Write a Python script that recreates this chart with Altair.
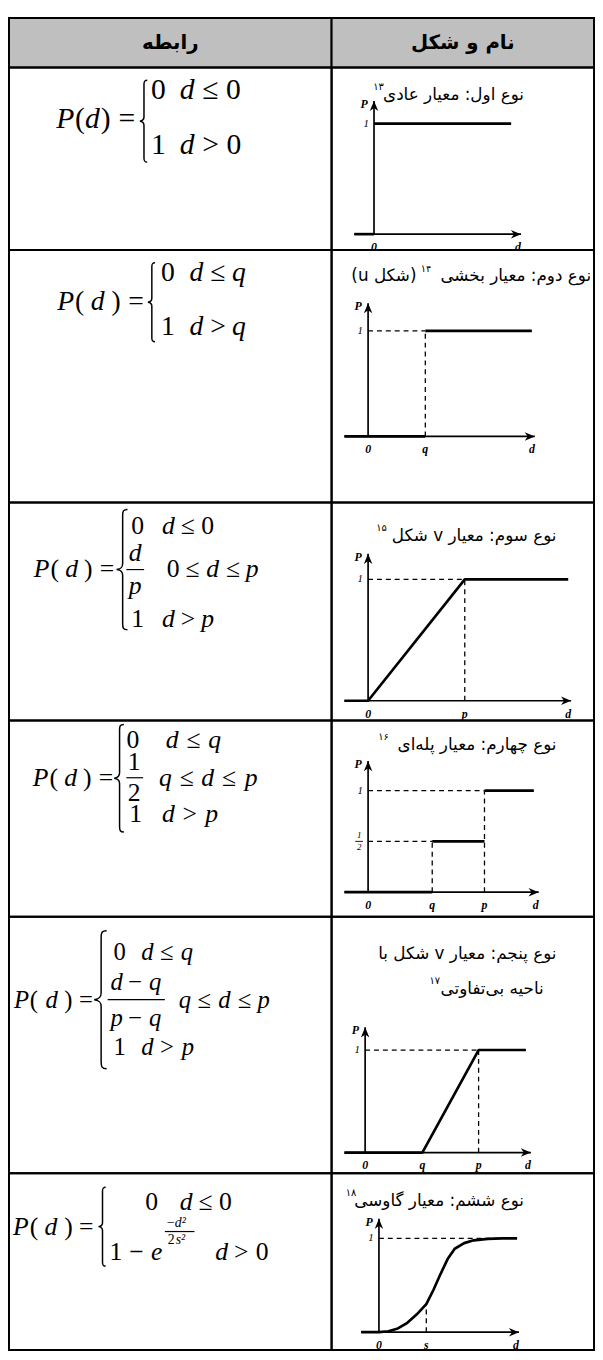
import altair as alt
import pandas as pd

# ---------------- data ----------------
HEADER = ["رابطه", "نام و شکل"]
TITLE_MAIN = ["نوع اول: معیار عادی", "نوع دوم: معیار بخشی", "نوع سوم: معیار v شکل",
              "نوع چهارم: معیار پله\u200cای", "نوع پنجم: معیار v شکل با", "نوع ششم: معیار گاوسی"]
TITLE_EXTRA = ["", "(شکل u)", "", "", "ناحیه بی\u200cتفاوتی", ""]
NOTES = ["۱۳", "۱۴", "۱۵", "۱۶", "۱۷", "۱۸"]

# criterion curves P(d); d measured in units of the marked parameter (q, p or s)
SOLID_D = [
    [[-0.134, 0.0], [0.0, 0.933]],
    [[-0.414, 1.0], [1.0, 2.862]],
    [[-0.245, 0.0, 1.0, 2.07]],
    [[-0.369, 1.0], [1.0, 1.815], [1.815, 2.585]],
    [[-0.362, 1.0, 1.983, 2.81]],
    [[-0.375, 0.0, 0.2, 0.4, 0.6, 0.8, 1.0, 1.15, 1.3, 1.45, 1.6, 1.8, 2.0, 2.3, 2.6, 2.917]],
]
SOLID_P = [
    [[0, 0], [1, 1]],
    [[0, 0], [1, 1]],
    [[0, 0, 1, 1]],
    [[0, 0], [0.5, 0.5], [1, 1]],
    [[0, 0, 1, 1]],
    [[0, 0, 0.01, 0.04, 0.10, 0.19, 0.30, 0.45, 0.62, 0.78, 0.89, 0.95, 0.98, 0.995, 1.0, 1.0]],
]
DASH_D = [
    [],
    [[0, 1], [1, 1]],
    [[0, 1], [1, 1]],
    [[0, 1.815], [0, 1], [1, 1], [1.815, 1.815]],
    [[0, 1.983], [1.983, 1.983]],
    [[0, 2.917], [1, 1]],
]
DASH_P = [
    [],
    [[1, 1], [0, 1]],
    [[1, 1], [0, 1]],
    [[1, 1], [0.5, 0.5], [0, 0.5], [0, 1]],
    [[1, 1], [0, 1]],
    [[1, 1], [0, 0.30]],
]
AXIS_DMIN = [-0.134, -0.414, -0.245, -0.369, -0.362, -0.375]
AXIS_DMAX = [1.0, 2.914, 2.10, 2.66, 2.897, 2.958]
AXIS_PMAX = [1.205, 1.262, 1.211, 1.29, 1.221, 1.21]
TICK_D = [[0], [0, 1], [0, 1], [0, 1, 1.815], [0, 1, 1.983], [0, 1]]
TICK_T = [["0"], ["0", "q"], ["0", "p"], ["0", "q", "p"], ["0", "q", "p"], ["0", "s"]]

# ---------------- layout ----------------
ROW_H = [50, 185, 256, 221, 199, 260, 179]
WL, WR = 327, 266
SERIF = "Liberation Serif"
FA = "DejaVu Sans"
RLE, PDF = "\u202b", "\u202c"
TITLE_FS = 17

# plot frame in cell pixels: origin x, px per d-unit, y of P=0, y of P=1
PLOT_FRAME = [(43, 149, 169, 57), (37, 58, 189, 82), (37, 98, 201, 78),
              (37, 65, 174, 71), (34, 58, 239, 135), (48, 48, 161, 66)]

# titles: right edge x, y, note x (right edge), note y, extra x, extra y
TITLE_POS = [(195, 28, 53, 20, None, None),
             (263, 27, 101, 19, 86, 27),
             (228, 34, 56, 26, None, None),
             (228, 25, 58, 17, None, None),
             (228, 38, 110, 65, 215, 73),
             (195, 28, 25, 20, None, None)]

# formula pieces: (x, y, text)
FORM = [
    dict(fs=30,
         i=[(48, 52, "P"), (77, 52, "d"), (173, 23, "d"), (173, 79, "d")],
         n=[(67, 52, "("), (93, 52, ")"), (111, 52, "="), (144, 23, "0"), (196, 23, "≤ 0"),
            (144, 79, "1"), (196, 79, "> 0")],
         ci=[], cn=[], si=[], sn=[], bars=[], brace=(136, 13, 96)),
    dict(fs=28,
         i=[(49, 53, "P"), (83, 53, "d"), (183, 24, "d"), (226, 24, "q"), (183, 78, "d"), (226, 78, "q")],
         n=[(67, 53, "("), (104, 53, ")"), (121, 53, "="), (154, 24, "0"), (204, 24, "≤"),
            (154, 78, "1"), (204, 78, ">")],
         ci=[], cn=[], si=[], sn=[], bars=[], brace=(144, 13, 93)),
    dict(fs=26,
         i=[(25, 68, "P"), (57, 68, "d"), (155, 24, "d"), (200, 68, "d"), (240, 68, "p"),
            (155, 118, "d"), (195, 118, "p")],
         n=[(42, 68, "("), (76, 68, ")"), (92, 68, "="), (124, 24, "0"), (174, 24, "≤"), (195, 24, "0"),
            (160, 68, "0"), (179, 68, "≤"), (220, 68, "≤"), (124, 118, "1"), (174, 118, ">")],
         ci=[(128, 51, "d"), (128, 85, "p")], cn=[], si=[], sn=[],
         bars=[(119, 137, 68)], brace=(114, 7, 129)),
    dict(fs=26,
         i=[(24, 58, "P"), (56, 58, "d"), (159, 20, "d"), (202, 20, "q"), (152, 58, "q"), (195, 58, "d"),
            (239, 58, "p"), (155, 95, "d"), (199, 95, "p")],
         n=[(41, 58, "("), (75, 58, ")"), (91, 58, "="), (119, 20, "0"), (180, 20, "≤"), (173, 58, "≤"),
            (216, 58, "≤"), (122, 95, "1"), (176, 95, ">")],
         ci=[], cn=[(127, 42, "1"), (127, 74, "2")], si=[], sn=[],
         bars=[(119, 136, 58)], brace=(111, 4, 113)),
    dict(fs=25,
         i=[(5, 84, "P"), (37, 84, "d"), (134, 36, "d"), (174, 36, "q"), (103, 66, "d"), (142, 66, "q"),
            (103, 103, "p"), (142, 103, "q"), (172, 84, "q"), (212, 84, "d"), (252, 84, "p"),
            (134, 132, "d"), (175, 132, "p")],
         n=[(21, 84, "("), (56, 84, ")"), (71, 84, "="), (106, 36, "0"), (153, 36, "≤"), (121, 66, "−"),
            (121, 103, "−"), (191, 84, "≤"), (232, 84, "≤"), (106, 132, "1"), (153, 132, ">")],
         ci=[], cn=[], si=[], sn=[], bars=[(100, 158, 84)], brace=(92, 14, 154)),
    dict(fs=26,
         i=[(4, 55, "P"), (36, 55, "d"), (173, 29, "d"), (144, 80, "e"), (209, 80, "d")],
         n=[(21, 55, "("), (56, 55, ")"), (71, 55, "="), (138, 29, "0"), (192, 29, "≤"), (213, 29, "0"),
            (102, 80, "1"), (122, 80, "−"), (228, 80, ">"), (250, 80, "0")],
         ci=[], cn=[], si=[(168, 50, "d²"), (169, 68, "s²")], sn=[(160, 50, "−"), (161, 68, "2")],
         bars=[(158, 188, 59)], brace=(94, 14, 94)),
]

BRACE = ("M0.1,-1 C0.03,-1 0.02,-0.97 0.02,-0.9 L0.02,-0.1 C0.02,-0.04 0,-0.01 -0.08,0 "
         "C0,0.01 0.02,0.04 0.02,0.1 L0.02,0.9 C0.02,0.97 0.03,1 0.1,1")
ARROW_R = "M0,0 L-1,-0.42 L-0.7,0 L-1,0.42 Z"
ARROW_U = "M0,0 L-0.42,1 L0,0.7 L0.42,1 Z"


def PX(f):
    return alt.X(f + ":Q", scale=None, axis=None)


def PY(f):
    return alt.Y(f + ":Q", scale=None, axis=None)


def texts(rows, size, style="normal", weight="normal", align="left", font=SERIF):
    df = pd.DataFrame(rows, columns=["x", "y", "t"])
    return alt.Chart(df).mark_text(font=font, fontSize=size, fontStyle=style, fontWeight=weight,
                                   align=align, baseline="middle", color="black").encode(
        x=PX("x"), y=PY("y"), text="t:N")


def seg_df(Ds, Ps):
    rows = []
    for k, (ds, ps) in enumerate(zip(Ds, Ps)):
        for j, (d, p) in enumerate(zip(ds, ps)):
            rows.append({"d": d, "P": p, "seg": k, "o": j})
    return pd.DataFrame(rows)


def formula_layers(f):
    L = []
    fs = f["fs"]
    if f["i"]:
        L.append(texts(f["i"], fs, style="italic"))
    if f["n"]:
        L.append(texts(f["n"], fs))
    if f["ci"]:
        L.append(texts(f["ci"], fs, style="italic", align="center"))
    if f["cn"]:
        L.append(texts(f["cn"], fs, align="center"))
    if f["si"]:
        L.append(texts(f["si"], 14, style="italic"))
    if f["sn"]:
        L.append(texts(f["sn"], 14))
    if f["bars"]:
        bdf = pd.DataFrame(f["bars"], columns=["x1", "x2", "y"])
        L.append(alt.Chart(bdf).mark_rule(color="black", strokeWidth=1.2).encode(
            x=PX("x1"), x2="x2:Q", y=PY("y")))
    bx, bt, bb = f["brace"]
    brdf = pd.DataFrame({"x": [bx], "y": [(bt + bb) / 2], "s": [(bb - bt) ** 2]})
    L.append(alt.Chart(brdf).mark_point(shape=BRACE, filled=False, color="black", strokeWidth=1.5,
                                        opacity=1).encode(
        x=PX("x"), y=PY("y"), size=alt.Size("s:Q", scale=None, legend=None)))
    return L


def plot_layers(i, h):
    ox, unit, ay, oy = PLOT_FRAME[i]
    # domains chosen so that the default ranges [0, W] / [H, 0] place the plot in its cell
    xs = alt.Scale(domain=[-ox / unit, (WR - ox) / unit], nice=False, zero=False)
    ys = alt.Scale(domain=[(ay - h) / (ay - oy), ay / (ay - oy)], nice=False, zero=False)
    ex = alt.X("d:Q", scale=xs, axis=None)
    ey = alt.Y("P:Q", scale=ys, axis=None)
    L = []
    axdf = seg_df([[AXIS_DMIN[i], AXIS_DMAX[i]], [0, 0]], [[0, 0], [0, AXIS_PMAX[i]]])
    L.append(alt.Chart(axdf).mark_line(color="black", strokeWidth=1.7).encode(
        x=ex, y=ey, detail="seg:N", order="o:Q"))
    if DASH_D[i]:
        L.append(alt.Chart(seg_df(DASH_D[i], DASH_P[i])).mark_line(
            color="black", strokeWidth=1.3, strokeDash=[5, 4]).encode(x=ex, y=ey, detail="seg:N", order="o:Q"))
    L.append(alt.Chart(seg_df(SOLID_D[i], SOLID_P[i])).mark_line(
        color="black", strokeWidth=2.7, strokeCap="butt", strokeJoin="round").encode(
        x=ex, y=ey, detail="seg:N", order="o:Q"))
    L.append(alt.Chart(pd.DataFrame({"d": [AXIS_DMAX[i]], "P": [0]})).mark_point(
        shape=ARROW_R, filled=True, size=420, color="black", opacity=1).encode(x=ex, y=ey))
    L.append(alt.Chart(pd.DataFrame({"d": [0], "P": [AXIS_PMAX[i]]})).mark_point(
        shape=ARROW_U, filled=True, size=420, color="black", opacity=1).encode(x=ex, y=ey))
    lab = dict(font=SERIF, fontSize=12, fontStyle="italic", fontWeight="bold", color="black",
               baseline="middle", align="center")
    L.append(alt.Chart(pd.DataFrame({"d": TICK_D[i], "P": [0] * len(TICK_D[i]), "t": TICK_T[i]})).mark_text(
        dy=13, **lab).encode(x=ex, y=ey, text="t:N"))
    L.append(alt.Chart(pd.DataFrame({"d": [AXIS_DMAX[i]], "P": [0], "t": ["d"]})).mark_text(
        dy=13, dx=-3, **lab).encode(x=ex, y=ey, text="t:N"))
    L.append(alt.Chart(pd.DataFrame({"d": [0], "P": [AXIS_PMAX[i]], "t": ["P"]})).mark_text(
        dy=3, dx=-10, **lab).encode(x=ex, y=ey, text="t:N"))
    lab1 = dict(lab, fontWeight="normal", fontSize=11)
    L.append(alt.Chart(pd.DataFrame({"d": [0], "P": [1], "t": ["1"]})).mark_text(
        dx=-8, **lab1).encode(x=ex, y=ey, text="t:N"))
    if i == 3:
        small = dict(lab1, fontSize=9)
        L.append(alt.Chart(pd.DataFrame({"d": [0], "P": [0.5], "t": ["1"]})).mark_text(
            dx=-9, dy=-6, **small).encode(x=ex, y=ey, text="t:N"))
        L.append(alt.Chart(pd.DataFrame({"d": [0], "P": [0.5], "t": ["2"]})).mark_text(
            dx=-9, dy=6, **small).encode(x=ex, y=ey, text="t:N"))
        L.append(alt.Chart(pd.DataFrame({"d": [-0.2], "d2": [-0.08], "P": [0.5]})).mark_rule(
            color="black", strokeWidth=0.9).encode(x=ex, x2="d2:Q", y=ey))
    return L


def title_layers(i):
    tx, ty, nx, ny, ex_, ey_ = TITLE_POS[i]
    L = [texts([(tx, ty, RLE + TITLE_MAIN[i] + PDF)], TITLE_FS, align="right", font=FA),
         texts([(nx, ny, NOTES[i])], 10, align="right", font=FA)]
    if TITLE_EXTRA[i]:
        L.append(texts([(ex_, ey_, RLE + TITLE_EXTRA[i] + PDF)], TITLE_FS, align="right", font=FA))
    return L


def cell(layers, w, h, **props):
    return alt.layer(*layers).properties(width=w, height=h, **props)


gray = alt.ViewBackground(fill="#bfbfbf", stroke="black", strokeWidth=2)
cells = [
    cell([texts([(WL / 2, 25, RLE + HEADER[0] + PDF)], 20, weight="bold", align="center", font=FA)],
         WL, ROW_H[0], view=gray),
    cell([texts([(WR / 2, 25, RLE + HEADER[1] + PDF)], 20, weight="bold", align="center", font=FA)],
         WR, ROW_H[0], view=gray),
]
for i in range(6):
    h = ROW_H[i + 1]
    cells.append(cell(formula_layers(FORM[i]), WL, h))
    cells.append(cell(title_layers(i) + plot_layers(i, h), WR, h))

chart = alt.concat(*cells, columns=2, spacing=0, bounds="flush").configure_view(
    stroke="black", strokeWidth=2).properties(padding=0, background="white")

chart.save("out.html", embed_options={"renderer": "svg", "actions": False})
